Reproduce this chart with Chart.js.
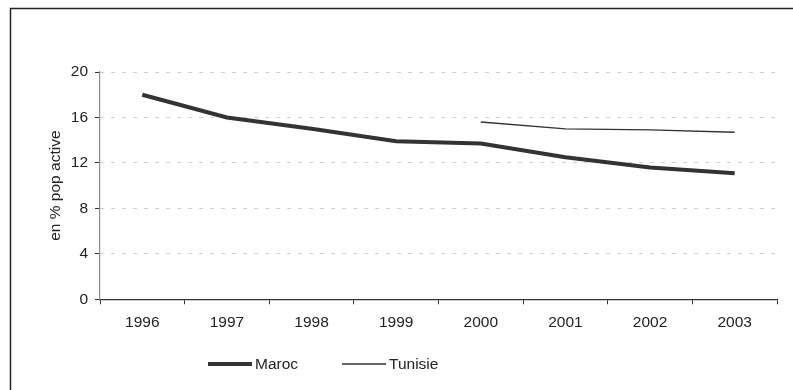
<!DOCTYPE html>
<html>
<head>
<meta charset="utf-8">
<script src="https://cdn.jsdelivr.net/npm/chart.js@4/dist/chart.umd.min.js"></script>
<style>
  html, body { margin: 0; padding: 0; background: #fff; }
  #wrap { width: 793px; height: 390px; position: relative; }
</style>
</head>
<body>
<div id="wrap"><canvas id="c" width="793" height="390"></canvas></div>
<script>
// Taux de chômage (en % de la population active)
const years = ['1996', '1997', '1998', '1999', '2000', '2001', '2002', '2003'];
const maroc = [18.0, 16.0, 15.0, 13.9, 13.7, 12.5, 11.6, 11.1];
const tunisie = [null, null, null, null, 15.6, 15.0, 14.9, 14.7];
const yTicks = [0, 4, 8, 12, 16, 20];

const FONT = '"Liberation Sans", Arial, Helvetica, sans-serif';
const FS = 15.5;
const INK = '#222222';

// Outer frame around the figure
const framePlugin = {
  id: 'frame',
  beforeDraw(chart) {
    const ctx = chart.ctx;
    ctx.save();
    ctx.strokeStyle = INK;
    ctx.lineWidth = 1.5;
    ctx.strokeRect(10.5, 8.5, chart.width + 20, chart.height + 20);
    ctx.restore();
  }
};

// Legend drawn as line samples followed by the series names
const lineLegend = {
  id: 'lineLegend',
  afterDraw(chart) {
    const ctx = chart.ctx;
    const y = 364;
    const items = [
      { ds: chart.data.datasets[0], x: 208 },
      { ds: chart.data.datasets[1], x: 342 }
    ];
    ctx.save();
    ctx.font = FS + 'px ' + FONT;
    ctx.textBaseline = 'middle';
    ctx.textAlign = 'left';
    items.forEach(it => {
      ctx.strokeStyle = it.ds.borderColor;
      ctx.lineWidth = it.ds.borderWidth;
      ctx.lineCap = 'butt';
      ctx.beginPath();
      ctx.moveTo(it.x, y);
      ctx.lineTo(it.x + 44, y);
      ctx.stroke();
      ctx.fillStyle = INK;
      ctx.fillText(it.ds.label, it.x + 47, y + 1);
    });
    ctx.restore();
  }
};

new Chart(document.getElementById('c'), {
  type: 'line',
  data: {
    labels: years,
    datasets: [
      {
        label: 'Maroc',
        data: maroc,
        borderColor: '#333333',
        borderWidth: 4,
        pointRadius: 0,
        tension: 0,
        fill: false
      },
      {
        label: 'Tunisie',
        data: tunisie,
        borderColor: '#333333',
        borderWidth: 1.3,
        pointRadius: 0,
        tension: 0,
        fill: false,
        spanGaps: false
      }
    ]
  },
  options: {
    responsive: false,
    animation: false,
    events: [],
    layout: { padding: { left: 0, top: 72, right: 16, bottom: 0 } },
    plugins: {
      legend: { display: false },
      tooltip: { enabled: false },
      title: { display: false }
    },
    scales: {
      x: {
        type: 'category',
        offset: true,
        grid: {
          offset: true,
          drawOnChartArea: false,
          drawTicks: true,
          tickLength: 5,
          tickColor: '#333333',
          color: '#333333'
        },
        border: { display: true, color: '#333333', width: 1.2 },
        ticks: {
          color: INK,
          font: { family: FONT, size: FS },
          padding: 9,
          maxRotation: 0,
          autoSkip: false
        },
        afterFit(scale) { scale.height = 90.7; }
      },
      y: {
        min: 0,
        max: 20,
        afterBuildTicks(scale) {
          scale.ticks = yTicks.map(v => ({ value: v }));
        },
        grid: {
          color: ctx => (ctx.tick && ctx.tick.value === 0) ? 'rgba(0,0,0,0)' : '#cfcfcf',
          lineWidth: 1,
          drawTicks: true,
          tickLength: 5,
          tickColor: '#333333',
          tickBorderDash: []
        },
        border: { display: true, color: '#8a8a8a', width: 1.2, dash: [4, 7] },
        ticks: {
          color: INK,
          font: { family: FONT, size: FS },
          padding: 7
        },
        title: {
          display: true,
          text: 'en % pop active',
          color: INK,
          font: { family: FONT, size: FS },
          padding: { top: 46, bottom: 0 }
        },
        afterFit(scale) { scale.width = 100; }
      }
    }
  },
  plugins: [framePlugin, lineLegend]
});
</script>
</body>
</html>
